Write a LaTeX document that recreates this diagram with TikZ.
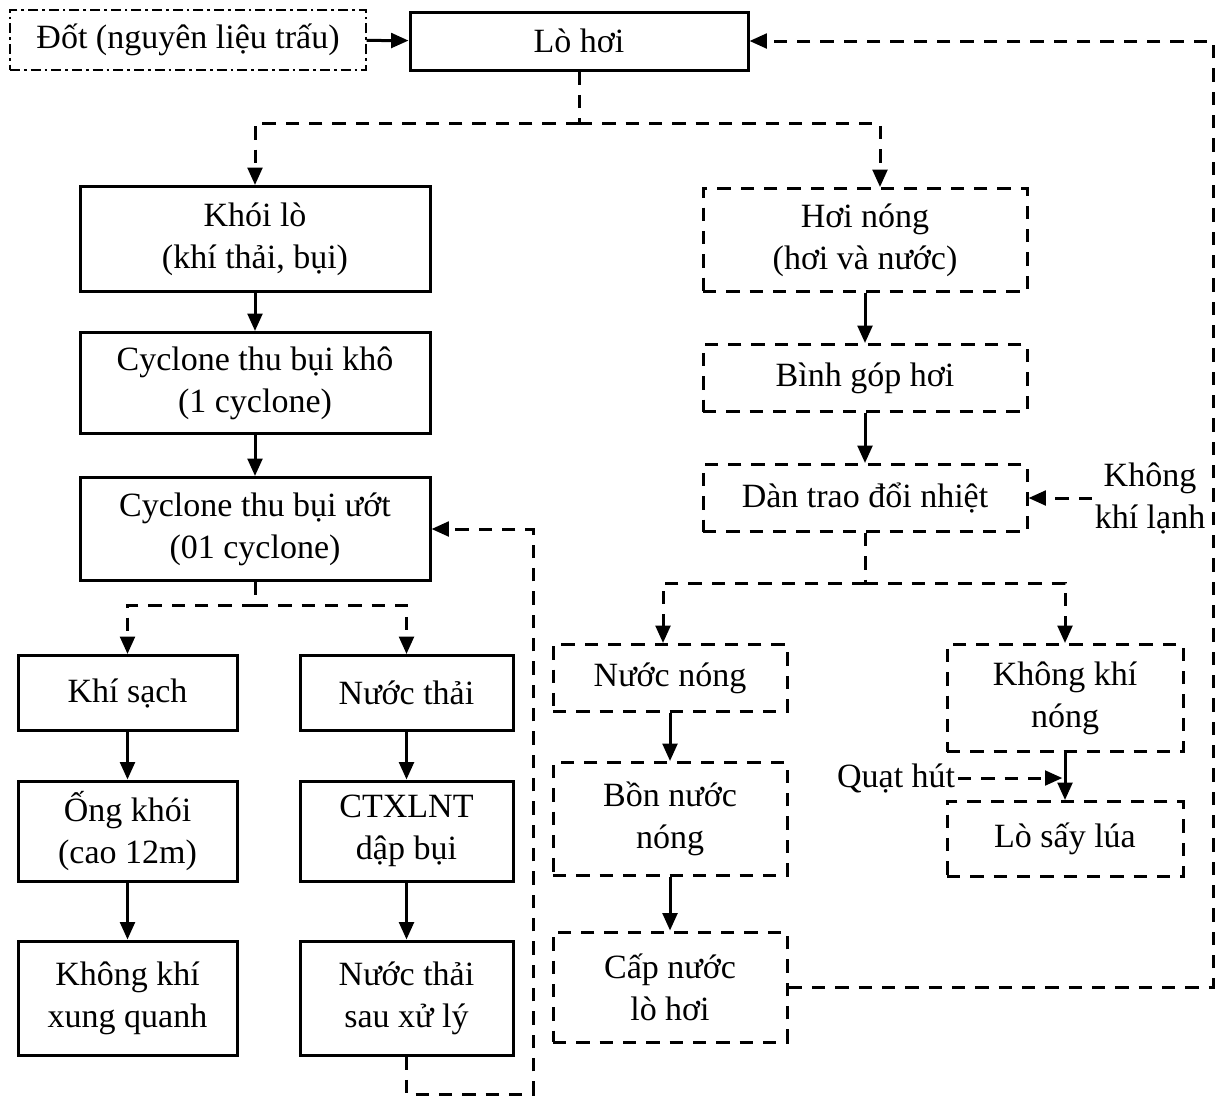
\documentclass[tikz,border=0pt]{standalone}
\usepackage{fontspec}
\setmainfont{Liberation Serif}
\usetikzlibrary{arrows.meta}

\tikzset{every picture/.style={line width=2.25pt}}
\tikzset{
  sbox/.style={draw, line width=2.25pt, inner sep=0pt, align=center, font=\fontsize{25.5}{31.5}\selectfont},
  dbox/.style={sbox, dash pattern=on 10pt off 7.5pt},
  ddbox/.style={sbox, line width=1.1pt, dash pattern=on 7.5pt off 3pt on 2pt off 3pt},
  sline/.style={line width=2.25pt, -{Triangle[length=13pt,width=11pt]}},
  dline/.style={line width=2.25pt, dash pattern=on 10pt off 7.5pt},
  darr/.style={dline, -{Triangle[length=13pt,width=11pt]}},
  lbl/.style={inner sep=1pt, align=center, font=\fontsize{25.5}{31.5}\selectfont}
}

\begin{document}
\begin{tikzpicture}[x=0.75pt,y=0.75pt,yscale=-1,xscale=1]
\useasboundingbox (0,0) rectangle (1216,1097);

% Text Node
\node [ddbox, minimum width=267pt, minimum height=45pt] (dot) at (188,40) {Đốt (nguyên liệu trấu)};
% Text Node
\node [sbox, minimum width=253.5pt, minimum height=43.5pt] (lohoi) at (579,41) {Lò hơi};
% Text Node
\node [sbox, minimum width=262.5pt, minimum height=78.75pt] (khoilo) at (255,239) {Khói lò\\(khí thải, bụi)};
% Text Node
\node [sbox, minimum width=262.5pt, minimum height=75.75pt] (cyckho) at (255,383) {Cyclone thu bụi khô\\(1 cyclone)};
% Text Node
\node [sbox, minimum width=262.5pt, minimum height=77.25pt] (cycuot) at (255,529) {Cyclone thu bụi ướt\\(01 cyclone)};
% Text Node
\node [sbox, minimum width=164.25pt, minimum height=56.25pt] (khisach) at (127.5,693) {Khí sạch};
% Text Node
\node [sbox, minimum width=159.75pt, minimum height=56.25pt] (nuocthai) at (406.5,693) {Nước thải};
% Text Node
\node [sbox, minimum width=164.25pt, minimum height=75pt] (ongkhoi) at (127.5,831) {Ống khói\\(cao 12m)};
% Text Node
\node [sbox, minimum width=159.75pt, minimum height=75pt] (ctxlnt) at (406.5,831) {CTXLNT\\dập bụi};
% Text Node
\node [sbox, minimum width=164.25pt, minimum height=85.5pt] (kkxq) at (127.5,998) {Không khí\\xung quanh};
% Text Node
\node [sbox, minimum width=159.75pt, minimum height=85.5pt] (ntsxl) at (406.5,998) {Nước thải\\sau xử lý};
% Text Node
\node [dbox, minimum width=243pt, minimum height=77.25pt] (hoinong) at (865,240) {Hơi nóng\\(hơi và nước)};
% Text Node
\node [dbox, minimum width=243pt, minimum height=50.25pt] (binhgop) at (865,378) {Bình góp hơi};
% Text Node
\node [dbox, minimum width=243pt, minimum height=50.25pt] (dan) at (865,498) {Dàn trao đổi nhiệt};
% Text Node
\node [dbox, minimum width=175.5pt, minimum height=50.25pt] (nuocnong) at (670,678) {Nước nóng};
% Text Node
\node [dbox, minimum width=175.5pt, minimum height=84.75pt] (bon) at (670,819) {Bồn nước\\nóng};
% Text Node
\node [dbox, minimum width=175.5pt, minimum height=82.5pt] (capnuoc) at (670,987) {Cấp nước\\lò hơi};
% Text Node
\node [dbox, minimum width=177pt, minimum height=80.25pt] (kknong) at (1065,698) {Không khí\\nóng};
% Text Node
\node [dbox, minimum width=177pt, minimum height=56.25pt] (losay) at (1065,839) {Lò sấy lúa};
% Text Node
\node [lbl] (kkl) at (1150,498) {Không\\khí lạnh};
% Text Node
\node [lbl, anchor=east] (quat) at (958,778) {Quạt hút};

% Coordinates for loops
\coordinate (rc) at (1213,41);
\coordinate (bl) at (533,1094);
\coordinate (hn) at (880,0);
\coordinate (nn) at (663,0);

% Connection
\draw [sline] (dot) -- (lohoi);
\draw [dline] (lohoi.south) -- ++(0,52) coordinate (j1);
\draw [darr] (j1) -| (khoilo.north);
\draw [darr] (j1) -| (hn |- hoinong.north);
% Connection
\draw [sline] (khoilo) -- (cyckho);
\draw [sline] (cyckho) -- (cycuot);
\draw [dline] (cycuot.south) -- ++(0,23) coordinate (j2);
\draw [darr] (j2) -| (khisach.north);
\draw [darr] (j2) -| (nuocthai.north);
% Connection
\draw [sline] (khisach) -- (ongkhoi);
\draw [sline] (ongkhoi) -- (kkxq);
\draw [sline] (nuocthai) -- (ctxlnt);
\draw [sline] (ctxlnt) -- (ntsxl);
\draw [darr] (ntsxl.south) |- (bl) |- (cycuot.east);
% Connection
\draw [sline] (hoinong) -- (binhgop);
\draw [sline] (binhgop) -- (dan);
\draw [darr] (kkl.west) -- (dan.east);
\draw [dline] (dan.south) -- ++(0,50) coordinate (j3);
\draw [darr] (j3) -| (nn |- nuocnong.north);
\draw [darr] (j3) -| (kknong.north);
% Connection
\draw [sline] (nuocnong) -- (bon);
\draw [sline] (bon) -- (capnuoc);
\draw [darr] (capnuoc.east) -- (capnuoc.east -| rc) -- (rc) -- (lohoi.east);
\draw [sline] (kknong) -- (losay);
\draw [darr, shorten >=2pt] (quat.east) -- (quat.east -| losay.north);

\end{tikzpicture}
\end{document}
